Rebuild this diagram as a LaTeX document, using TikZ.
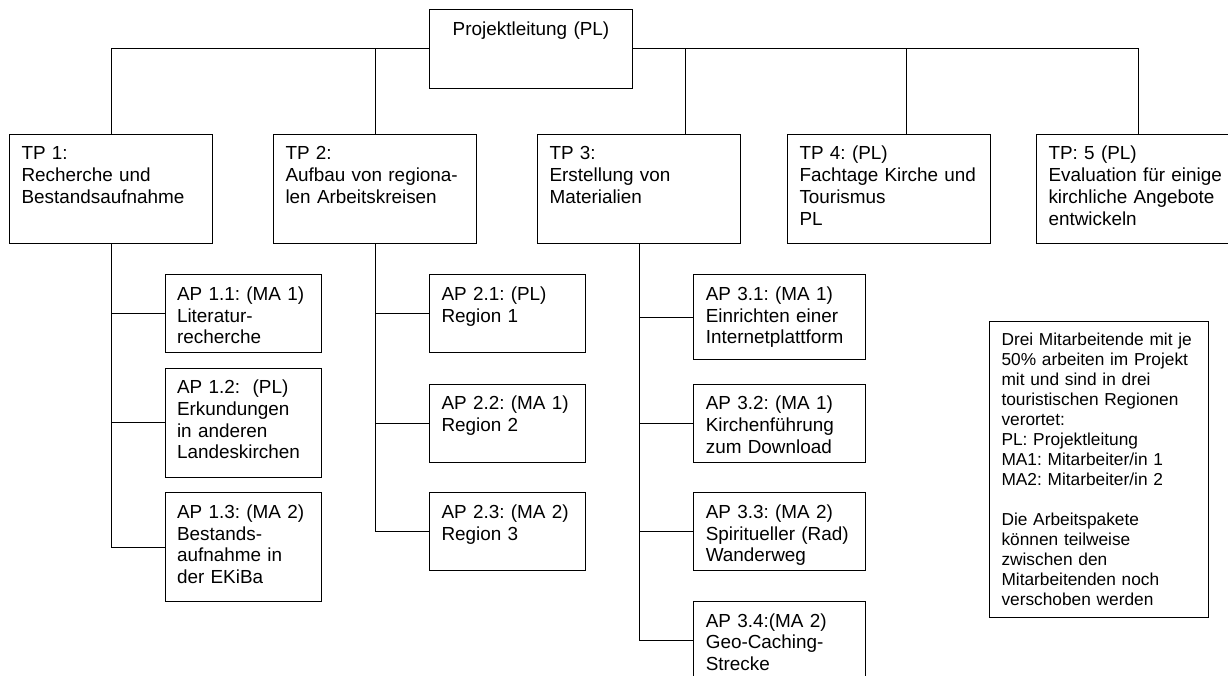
\documentclass[tikz,border=0pt]{standalone}
\usepackage{fontspec}
\setmainfont{Liberation Sans}
\frenchspacing
\usetikzlibrary{positioning}

\begin{document}
\begin{tikzpicture}[x=1pt,y=-1pt,
	kasten/.style={draw, line width=1pt, anchor=north west, align=left, inner xsep=12pt, inner ysep=0pt, text height=25.5pt, font=\fontsize{18.9}{21.7}\selectfont},
	teilprojekt/.style={kasten, text width=179pt, text depth=83.5pt},
	apkurz/.style={kasten, text width=132pt, text depth=52.5pt},
	aplang/.style={kasten, text width=132pt, text depth=83.5pt},
	apbreit/.style={kasten, text width=147.4pt, text depth=52.5pt},
	hinweis/.style={kasten, text width=194.5pt, text height=23.5pt, text depth=272.2pt, font=\fontsize{17.3}{20}\selectfont}]
	\useasboundingbox (0,0) rectangle (1228,676);

	% Projektleitung
	\node[kasten, align=center, text width=179pt, text height=26pt, text depth=53pt] (pl) at (429,9) {Projektleitung (PL)};

	% Teilprojekte
	\node[teilprojekt] (tp1) at (9,134) {TP 1:\\Recherche und\\Bestandsaufnahme};
	\node[teilprojekt] (tp2) at (273,134) {TP 2:\\Aufbau von regiona-\\len Arbeitskreisen};
	\node[teilprojekt] (tp3) at (537,134) {TP 3:\\Erstellung von\\Materialien};
	\node[teilprojekt] (tp4) at (787,134) {TP 4: (PL)\\Fachtage Kirche und\\Tourismus\\PL};
	\node[teilprojekt] (tp5) at (1036,134) {TP: 5 (PL)\\Evaluation für einige\\kirchliche Angebote\\entwickeln};

	% Arbeitspakete TP 1
	\node[apkurz] (ap11) at (164.5,274.3) {AP 1.1: (MA 1)\\Literatur-\\recherche};
	\node[aplang] (ap12) at (164.5,367.7) {AP 1.2: \ (PL)\\Erkundungen\\in anderen\\Landeskirchen};
	\node[aplang] (ap13) at (164.5,492.3) {AP 1.3: (MA 2)\\Bestands-\\aufnahme in\\der EKiBa};

	% Arbeitspakete TP 2
	\node[apkurz] (ap21) at (429,274.3) {AP 2.1: (PL)\\Region 1};
	\node[apkurz] (ap22) at (429,383.7) {AP 2.2: (MA 1)\\Region 2};
	\node[apkurz] (ap23) at (429,492.3) {AP 2.3: (MA 2)\\Region 3};

	% Arbeitspakete TP 3
	\node[apbreit, text depth=59.2pt] (ap31) at (693.3,274.3) {AP 3.1: (MA 1)\\Einrichten einer\\Internetplattform};
	\node[apbreit] (ap32) at (693.3,383.7) {AP 3.2: (MA 1)\\Kirchenführung\\zum Download};
	\node[apbreit] (ap33) at (693.3,492.3) {AP 3.3: (MA 2)\\Spiritueller (Rad)\\Wanderweg};
	\node[apbreit] (ap34) at (693.3,601) {AP 3.4:(MA 2)\\Geo-Caching-\\Strecke};

	% Hinweis
	\node[hinweis] (info) at (989,321) {Drei Mitarbeitende mit je\\50\% arbeiten im Projekt\\mit und sind in drei\\touristischen Regionen\\verortet:\\PL: Projektleitung\\MA1: Mitarbeiter/in 1\\MA2: Mitarbeiter/in 2\\[20pt]Die Arbeitspakete\\können teilweise\\zwischen den\\Mitarbeitenden noch\\verschoben werden};

	% Verbindungen
	\draw[line width=1pt] (pl.west) -| (tp1.north);
	\draw[line width=1pt] (pl.west) -| (tp2.north);
	\draw[line width=1pt] (pl.east) -| ([xshift=46pt]tp3.north);
	\draw[line width=1pt] (pl.east) -| ([xshift=17pt]tp4.north);
	\draw[line width=1pt] (pl.east) -| (tp5.north);

	\draw[line width=1pt] (tp1.south) |- (ap11.west);
	\draw[line width=1pt] (tp1.south) |- (ap12.west);
	\draw[line width=1pt] (tp1.south) |- (ap13.west);
	\draw[line width=1pt] (tp2.south) |- (ap21.west);
	\draw[line width=1pt] (tp2.south) |- (ap22.west);
	\draw[line width=1pt] (tp2.south) |- (ap23.west);
	\draw[line width=1pt] (tp3.south) |- (ap31.west);
	\draw[line width=1pt] (tp3.south) |- (ap32.west);
	\draw[line width=1pt] (tp3.south) |- (ap33.west);
	\draw[line width=1pt] (tp3.south) |- (ap34.west);
\end{tikzpicture}
\end{document}
